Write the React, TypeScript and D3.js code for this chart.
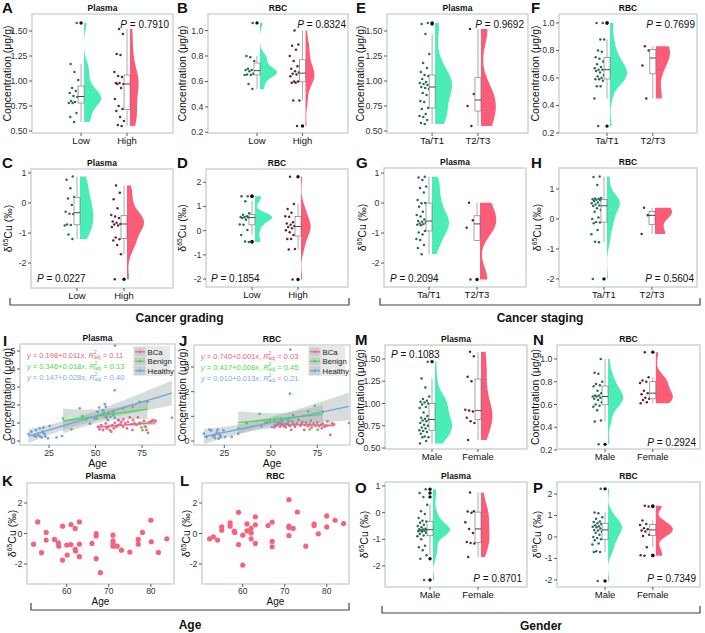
import React from "react";
import * as d3 from "d3";

const FONT = "'Liberation Sans', Arial, Helvetica, sans-serif";
const GREEN = "#4AEDB5";
const RED = "#FB5C77";
const GREEN_DOT = "#2B6A5A";
const RED_DOT = "#5E2631";
const FRAME = "#C3CED4";
const BCA = "#F4637C";
const BENIGN = "#3FE03F";
const HEALTHY = "#6BA7DC";

// ---------- categories & ticks ----------
const gradeGroups = ["Low", "High"];
const stageGroups = ["Ta/T1", "T2/T3"];
const genderGroups = ["Male", "Female"];
const plasmaConcTicks = [0.5, 0.75, 1.0, 1.25, 1.5];
const rbcConcTicks = [0.2, 0.4, 0.6, 0.8, 1.0];
const deltaTicks4 = [-2, -1, 0, 1];
const deltaTicks5 = [-2, -1, 0, 1, 2];
const pValues = ["0.7910", "0.8324", "0.0227", "0.1854", "0.9692", "0.7699", "0.2094", "0.5604", "0.1083", "0.2924", "0.8701", "0.7349"];

// ---------- grading ----------
const plasmaConcLow = [1.58, 1.17, 1.09, 1.01, 0.93, 0.90, 0.88, 0.85, 0.84, 0.80, 0.79, 0.78, 0.78, 0.68, 0.64, 0.59];
const plasmaConcHigh = [1.52, 1.47, 1.27, 1.26, 1.09, 1.05, 1.04, 0.98, 0.98, 0.97, 0.97, 0.93, 0.82, 0.75, 0.72, 0.70, 0.64, 0.60, 0.56, 0.55];
const rbcConcLow = [1.06, 0.80, 0.79, 0.76, 0.70, 0.69, 0.69, 0.68, 0.66, 0.655, 0.65, 0.65, 0.58, 0.54];
const rbcConcHigh = [1.0, 0.89, 0.88, 0.85, 0.80, 0.76, 0.72, 0.70, 0.68, 0.67, 0.66, 0.655, 0.64, 0.60, 0.60, 0.59, 0.59, 0.45, 0.45, 0.25];
const plasmaDeltaLow = [0.88, 0.77, 0.49, 0.20, 0.15, -0.07, -0.29, -0.36, -0.37, -0.72, -0.73, -0.75, -1.05, -1.20];
const plasmaDeltaHigh = [0.58, 0.34, 0.12, -0.18, -0.40, -0.45, -0.50, -0.62, -0.66, -0.70, -0.72, -0.75, -0.80, -1.15, -1.21, -1.25, -1.40, -1.71, -2.54];
const rbcDeltaLow = [1.42, 1.42, 1.22, 0.72, 0.66, 0.60, 0.56, 0.55, 0.54, 0.52, 0.45, 0.25, 0.24, 0.03, -0.18, -0.45, -0.47];
const rbcDeltaHigh = [2.23, 1.10, 0.90, 0.74, 0.60, 0.58, 0.35, 0.30, 0.24, 0.19, 0.15, 0.10, 0.02, -0.07, -0.18, -0.34, -0.35, -0.76, -0.78, -2.02];

// ---------- staging ----------
const plasmaConcT1 = [1.58, 1.57, 1.47, 1.27, 1.18, 1.13, 1.09, 1.06, 1.05, 1.02, 0.99, 0.98, 0.97, 0.96, 0.94, 0.93, 0.92, 0.88, 0.86, 0.80, 0.79, 0.73, 0.72, 0.67, 0.65, 0.64, 0.61, 0.58, 0.57];
const plasmaConcT23 = [1.52, 0.87, 0.75, 0.55];
const rbcConcT1 = [1.0, 1.0, 0.88, 0.88, 0.80, 0.79, 0.75, 0.74, 0.72, 0.70, 0.68, 0.67, 0.66, 0.66, 0.65, 0.64, 0.62, 0.61, 0.60, 0.59, 0.59, 0.58, 0.54, 0.54, 0.45, 0.25];
const rbcConcT23 = [0.83, 0.80, 0.69, 0.45];
const plasmaDeltaT1 = [0.88, 0.85, 0.77, 0.55, 0.50, 0.35, 0.10, -0.01, 0.00, -0.12, -0.29, -0.40, -0.45, -0.55, -0.60, -0.62, -0.65, -0.68, -0.70, -0.72, -0.74, -0.93, -0.98, -1.05, -1.20, -1.23, -1.40, -1.50, -1.71];
const plasmaDeltaT23 = [0.01, -0.57, -0.82, -2.55];
const rbcDeltaT1 = [1.42, 1.40, 1.13, 0.70, 0.68, 0.67, 0.66, 0.64, 0.62, 0.60, 0.55, 0.52, 0.48, 0.45, 0.43, 0.36, 0.30, 0.24, 0.05, 0.0, -0.10, -0.12, -0.14, -0.37, -0.51, -0.76, -0.78, -2.0];
const rbcDeltaT23 = [0.37, 0.12, -0.50];

// ---------- gender ----------
const plasmaConcMale = [1.47, 1.28, 1.18, 1.08, 1.05, 1.03, 1.02, 1.01, 1.00, 0.99, 0.96, 0.95, 0.90, 0.86, 0.84, 0.83, 0.82, 0.81, 0.80, 0.78, 0.76, 0.75, 0.73, 0.72, 0.70, 0.69, 0.68, 0.66, 0.63, 0.62, 0.62, 0.58, 0.55];
const plasmaConcFemale = [1.58, 1.53, 1.30, 1.25, 0.93, 0.92, 0.91, 0.84, 0.80, 0.78, 0.59];
const rbcConcMale = [1.0, 0.88, 0.87, 0.80, 0.78, 0.77, 0.76, 0.72, 0.70, 0.68, 0.68, 0.67, 0.67, 0.66, 0.65, 0.64, 0.62, 0.60, 0.59, 0.58, 0.55, 0.46, 0.45, 0.25];
const rbcConcFemale = [1.06, 0.84, 0.81, 0.80, 0.79, 0.72, 0.70, 0.69, 0.66, 0.65, 0.64, 0.62, 0.61];
const plasmaDeltaMale = [0.88, 0.74, 0.59, 0.30, 0.05, -0.05, -0.20, -0.30, -0.33, -0.38, -0.45, -0.50, -0.55, -0.60, -0.62, -0.63, -0.65, -0.66, -0.68, -0.70, -0.72, -0.75, -0.80, -0.86, -0.89, -1.0, -1.24, -1.30, -1.41, -1.60, -1.73, -2.53];
const plasmaDeltaFemale = [0.76, 0.05, 0.04, 0.0, -0.36, -0.61, -0.76, -1.10, -1.14, -1.16, -1.66];
const rbcDeltaMale = [2.24, 1.14, 1.10, 0.92, 0.85, 0.72, 0.70, 0.64, 0.60, 0.55, 0.50, 0.48, 0.45, 0.40, 0.33, 0.30, 0.25, 0.20, 0.10, 0.0, -0.05, -0.11, -0.15, -0.30, -0.35, -0.66, -0.70, -0.70, -2.05];
const rbcDeltaFemale = [1.45, 1.42, 0.77, 0.60, 0.56, 0.41, 0.36, 0.30, 0.25, 0.10, 0.05, -0.48, -0.85, -0.87];

// ---------- age scatter (I, J): [age, value] ----------
const plasmaBca = [[51.3,0.79],[52.2,0.65],[53,0.89],[54,0.61],[55.5,0.98],[56,0.70],[56.7,0.79],[57.6,0.61],[58.5,0.52],[59,0.89],[59.8,0.70],[60.3,1.01],[61.2,0.79],[62,0.89],[62.6,1.16],[63.4,0.94],[63.9,1.07],[64.8,0.79],[65,1.20],[66,0.98],[66.9,0.70],[67.4,1.07],[68.4,1.31],[69.3,0.94],[69.8,0.61],[70.2,1.16],[71,0.98],[72,0.89],[72.8,1.31],[73.4,0.98],[74,1.01],[75.2,0.61],[76,1.12],[77,0.79],[77.3,0.61],[78.2,0.46],[79,1.07],[80,1.12],[81,1.16],[82.3,1.12]];
const plasmaBenign = [[32.5,1.25],[37,0.65],[43,1.38],[47,0.98],[50.6,1.25],[54.4,1.57],[55.5,1.35],[59.4,1.44],[60.3,2.82],[64.8,1.81],[70,1.90],[73.7,2.18],[74.6,0.76],[76.4,0.80],[78,2.18]];
const plasmaHealthy = [[14,0.39],[15.5,0.52],[17,0.28],[18,0.61],[18,0.25],[19,0.42],[19,0.35],[20,0.70],[20,0.28],[21,0.20],[21.4,0.52],[22,0.74],[22,0.45],[22.7,0.39],[23,0.24],[24.5,0.15],[25.4,0.83],[29,0.20],[32,0.28],[41.5,1.82],[45,1.20],[47,0.95],[49.5,1.25],[51,1.62],[52,1.86],[54,1.44],[54,1.71],[55,2.05],[55.5,1.90],[56,1.30],[56.7,1.16],[57,1.53],[58,1.35],[59.5,1.62],[60.3,1.30],[60.5,5.3],[62,1.16],[91,1.30]];
const rbcBca = [[52,0.55],[53,0.62],[54,0.70],[55,0.58],[55.5,0.66],[56,0.75],[57,0.60],[57.5,0.68],[58,0.55],[59,0.72],[60,0.63],[61,0.45],[61.5,0.80],[62,1.05],[62.5,0.66],[63,0.58],[64,0.72],[65,0.85],[66,0.62],[66.5,0.70],[67,0.78],[68,0.45],[68.5,0.65],[69,0.75],[70,0.60],[71,0.68],[71.5,0.82],[72,0.55],[73,0.70],[74,0.62],[75,0.75],[76,0.60],[77,0.66],[77.5,0.52],[78,0.70],[79,0.58],[80,0.62],[80.5,0.80],[82,0.25],[83,0.72],[84,0.68]];
const rbcBenign = [[32.5,0.50],[37,0.72],[44,1.10],[47,0.75],[49.5,0.81],[52,0.84],[55.5,0.90],[59.4,0.86],[60.3,1.92],[64.8,0.86],[70,1.20],[71,0.47],[73.7,1.43],[75.2,0.46],[78,1.18]];
const rbcHealthy = [[14,0.30],[15.5,0.16],[17,0.46],[18,0.43],[19,0.19],[19,0.22],[20,0.12],[20,0.25],[21,0.35],[21.4,0.46],[22,0.10],[22,0.30],[22.7,0.23],[23,0.16],[24.5,0.43],[25.4,0.16],[29,0.16],[32.5,0.30],[45,0.60],[48,0.75],[50.5,0.57],[52,0.63],[54,0.77],[55,0.70],[55.5,0.84],[56,0.77],[57,0.66],[58,0.70],[59.5,0.80],[60.3,0.60],[60.5,3.7],[62,0.70],[92,0.73]];
const groupNames = ["BCa", "Benign", "Healthy"];
const plasmaEq = ["0.198+0.011", "0.346+0.018", "0.147+0.028"];
const plasmaR2 = ["0.11", "0.13", "0.40"];
const rbcEq = ["0.740+0.001", "0.417+0.008", "0.010+0.013"];
const rbcR2 = ["0.03", "0.45", "0.21"];

// ---------- age vs delta (K, L) ----------
const plasmaDeltaAge = [[52.1,-0.70],[53.1,0.76],[54,-1.26],[55.1,0.07],[55.1,-0.43],[57.1,-0.39],[58,-0.61],[58.1,-0.83],[59,0.48],[59,-1.74],[60,-0.76],[60.1,-1.41],[61,0.59],[61,-0.72],[62,0.33],[62,-1.04],[62.1,-1.15],[63,0.76],[63,-0.70],[63,-1.52],[66,-0.65],[67,0.0],[67,-0.17],[67,-1.65],[68,-2.57],[71,-0.11],[71,-0.48],[71,-0.65],[71,-0.83],[72,-0.83],[73,-1.09],[75,-1.22],[77,-0.39],[77,-0.70],[78,0.07],[80,0.87],[80.1,-0.54],[81.8,-1.24],[83.8,-0.35]];
const rbcDeltaAge = [[52.1,-0.35],[53,-0.22],[54,-0.43],[55,0.43],[55,0.22],[57,0.70],[57,0.48],[58,0.15],[58.1,0.07],[59,1.39],[59,-0.72],[60,-0.11],[60,-2.07],[61,0.63],[61,0.17],[62,0.33],[62,0.04],[62,-0.35],[63,1.09],[63,0.57],[63,-0.65],[66,0.52],[67,0.74],[67,-0.52],[67,-0.87],[71,2.22],[71,0.48],[71,0.39],[71,-0.13],[72,0.33],[73,1.41],[75,-0.83],[77,0.61],[77,0.52],[78,-0.02],[80,1.15],[80,0.43],[82,0.87],[84,0.65]];
const ageTicksWide = [25, 50, 75];
const ageTicksBca = [60, 70, 80];

// ---------- helpers ----------
function nrd0(vals: number[]) {
  const s = d3.sort(vals);
  const sd = d3.deviation(vals) || 0;
  const iqr = (d3.quantileSorted(s, 0.75) as number) - (d3.quantileSorted(s, 0.25) as number);
  let lo = Math.min(sd, iqr / 1.34);
  if (!(lo > 0)) lo = sd || 1;
  return 0.9 * lo * Math.pow(vals.length, -0.2);
}
function kde(vals: number[], grid: number[], bw: number) {
  const c = 1 / (bw * Math.sqrt(2 * Math.PI));
  return grid.map((g) => c * (d3.mean(vals, (v) => Math.exp(-0.5 * ((g - v) / bw) ** 2)) as number));
}
function fmtTick(v: number, f: string) {
  if (f === "d") return String(v);
  return d3.format(f)(v);
}
function tQ(df: number) {
  const z = 1.959964;
  return z + (z ** 3 + z) / (4 * df) + (5 * z ** 5 + 16 * z ** 3 + 3 * z) / (96 * df * df);
}

function DeltaLabel({ x, y, size = 10.5 }) {
  return (
    <text transform={`translate(${x},${y}) rotate(-90)`} textAnchor="middle" fontSize={size} fontFamily={FONT} fill="#111">
      δ<tspan dy={-4} fontSize={size * 0.65}>65</tspan><tspan dy={4}>Cu (‰)</tspan>
    </text>
  );
}
function ConcLabel({ x, y, size = 10.5 }) {
  return (
    <text transform={`translate(${x},${y}) rotate(-90)`} textAnchor="middle" fontSize={size} fontFamily={FONT} fill="#111">
      Concentration (μg/g)
    </text>
  );
}
function PLabel({ x, y, anchor, value }) {
  return (
    <text x={x} y={y} textAnchor={anchor} fontSize={10} fontFamily={FONT} fill="#111">
      <tspan fontStyle="italic">P</tspan> = {value}
    </text>
  );
}
function Letter({ x, y, t }) {
  return <text x={x} y={y} fontSize={15} fontWeight="bold" fontFamily={FONT} fill="#111">{t}</text>;
}
function Title({ x, y, t }) {
  return <text x={x} y={y} textAnchor="middle" fontSize={8.5} fontWeight="bold" fontFamily={FONT} fill="#111">{t}</text>;
}
function YAxis({ x0, y, ticks, f }) {
  return (
    <g>
      {ticks.map((t) => (
        <g key={t}>
          <line x1={x0 - 3} x2={x0} y1={y(t)} y2={y(t)} stroke="#333" strokeWidth={0.8} />
          <text x={x0 - 4.5} y={y(t) + 3} textAnchor="end" fontSize={8.8} fontFamily={FONT} fill="#333">{fmtTick(t, f)}</text>
        </g>
      ))}
    </g>
  );
}

// ---------- raincloud panel ----------
function Rain({ c }) {
  const [x0, x1, y0, y1] = c.box;
  const y = d3.scaleLinear().domain(c.domain).range([y1, y0]);
  const xf = d3.scaleLinear().domain([0, 1]).range([x0, x1]);
  const cols = [GREEN, RED];
  const dotCols = [GREEN_DOT, RED_DOT];
  const stats = c.data.map((vals: number[]) => {
    const s = d3.sort(vals);
    const q1 = d3.quantileSorted(s, 0.25) as number;
    const med = d3.quantileSorted(s, 0.5) as number;
    const q3 = d3.quantileSorted(s, 0.75) as number;
    const iqr = q3 - q1;
    const lo = q1 - 1.5 * iqr, hi = q3 + 1.5 * iqr;
    const inside = s.filter((v) => v >= lo && v <= hi);
    const out = s.filter((v) => v < lo || v > hi);
    const bw = nrd0(vals);
    const mn = s[0], mx = s[s.length - 1];
    const grid = d3.range(0, 121).map((i) => mn + ((mx - mn) * i) / 120);
    const dens = kde(vals, grid, bw);
    return { q1, med, q3, wLo: d3.min(inside), wHi: d3.max(inside), out, grid, dens };
  });
  const maxD = d3.max(stats, (s: any) => d3.max(s.dens)) as number;
  const MAXW = 17;
  const cx = c.fracs.map((f: number) => xf(f));
  return (
    <g>
      <rect x={x0} y={y0} width={x1 - x0} height={y1 - y0} fill="#fff" stroke={FRAME} strokeWidth={1.3} />
      {stats.map((s: any, gi: number) => {
        const base = cx[gi] + 3;
        const pts = s.grid.map((g: number, i: number) => [g, s.dens[i]]);
        const area = d3.area<any>().y((d) => y(d[0])).x0(base).x1((d) => base + (d[1] / maxD) * MAXW);
        return <path key={"v" + gi} d={area(pts) || ""} fill={cols[gi]} />;
      })}
      {c.data.map((vals: number[], gi: number) =>
        vals.map((v, i) => {
          const off = 2.8 + ((i * 0.6180339887 + 0.37 * gi + 0.15) % 1) * 10;
          return <circle key={"d" + gi + "-" + i} cx={cx[gi] - off} cy={y(v)} r={1.25} fill={dotCols[gi]} />;
        })
      )}
      {stats.map((s: any, gi: number) => (
        <g key={"b" + gi}>
          <line x1={cx[gi]} x2={cx[gi]} y1={y(s.wHi)} y2={y(s.q3)} stroke="#777" strokeWidth={0.6} />
          <line x1={cx[gi]} x2={cx[gi]} y1={y(s.q1)} y2={y(s.wLo)} stroke="#777" strokeWidth={0.6} />
          <rect x={cx[gi] - 3} y={y(s.q3)} width={6} height={Math.max(0.5, y(s.q1) - y(s.q3))} fill="#fff" stroke="#666" strokeWidth={0.6} />
          <line x1={cx[gi] - 3} x2={cx[gi] + 3} y1={y(s.med)} y2={y(s.med)} stroke="#333" strokeWidth={0.9} />
          {s.out.map((v: number, i: number) => (
            <circle key={i} cx={cx[gi]} cy={y(v)} r={1.7} fill="#111" />
          ))}
        </g>
      ))}
      <YAxis x0={x0} y={y} ticks={c.ticks} f={c.fmt} />
      {c.cats.map((t: string, i: number) => (
        <g key={t}>
          <line x1={cx[i]} x2={cx[i]} y1={y1} y2={y1 + 3} stroke="#333" strokeWidth={0.8} />
          <text x={cx[i]} y={y1 + 10.5} textAnchor="middle" fontSize={9.5} fontFamily={FONT} fill="#111">{t}</text>
        </g>
      ))}
      <Title x={(x0 + x1) / 2} y={y0 - 3.5} t={c.title} />
      <Letter x={c.letter[0]} y={c.letter[1]} t={c.id} />
      {c.yKind === "conc" ? <ConcLabel x={c.yLabelX} y={(y0 + y1) / 2} /> : <DeltaLabel x={c.yLabelX} y={(y0 + y1) / 2} />}
      <PLabel x={c.p[0]} y={c.p[1]} anchor={c.p[2]} value={c.pv} />
    </g>
  );
}

// ---------- regression panel ----------
function fit(pts: number[][]) {
  const n = pts.length;
  const mx = d3.mean(pts, (p) => p[0]) as number;
  const my = d3.mean(pts, (p) => p[1]) as number;
  const sxx = d3.sum(pts, (p) => (p[0] - mx) ** 2);
  const sxy = d3.sum(pts, (p) => (p[0] - mx) * (p[1] - my));
  const b = sxy / sxx, a = my - b * mx;
  const s = Math.sqrt(d3.sum(pts, (p) => (p[1] - a - b * p[0]) ** 2) / (n - 2));
  const t = tQ(n - 2);
  const [xmin, xmax] = d3.extent(pts, (p) => p[0]) as [number, number];
  const grid = d3.range(0, 41).map((i) => xmin + ((xmax - xmin) * i) / 40);
  const band = grid.map((x) => {
    const yh = a + b * x;
    const se = s * Math.sqrt(1 / n + (x - mx) ** 2 / sxx);
    return [x, yh - t * se, yh + t * se];
  });
  return { a, b, xmin, xmax, band };
}

function Reg({ c }) {
  const [x0, x1, y0, y1] = c.box;
  const x = d3.scaleLinear().domain(c.xdomain).range([x0, x1]);
  const y = d3.scaleLinear().domain(c.ydomain).range([y1, y0]);
  const cols = [BCA, BENIGN, HEALTHY];
  const eqCols = ["#F2607A", "#45DD45", "#7AAEDD"];
  const fits = c.groups.map((g: number[][]) => fit(g));
  const lx = c.legend[0], ly = c.legend[1];
  return (
    <g>
      <defs>
        <clipPath id={"clip" + c.id}><rect x={x0} y={y0 - 4} width={x1 - x0} height={y1 - y0 + 4} /></clipPath>
      </defs>
      <rect x={x0} y={y0} width={x1 - x0} height={y1 - y0} fill="#fff" stroke={FRAME} strokeWidth={1.3} />
      <g clipPath={`url(#clip${c.id})`}>
        {c.groups.map((g: number[][], gi: number) =>
          g.map((p, i) => <circle key={gi + "-" + i} cx={x(p[0])} cy={y(p[1])} r={1.35} fill={cols[gi]} />)
        )}
        {fits.map((f: any, gi: number) => {
          const area = d3.area<any>().x((d) => x(d[0])).y0((d) => y(d[1])).y1((d) => y(d[2]));
          return <path key={"band" + gi} d={area(f.band) || ""} fill="#8C9498" fillOpacity={0.33} />;
        })}
        {fits.map((f: any, gi: number) => (
          <line key={"l" + gi} x1={x(f.xmin)} x2={x(f.xmax)} y1={y(f.a + f.b * f.xmin)} y2={y(f.a + f.b * f.xmax)} stroke={cols[gi]} strokeWidth={1.3} />
        ))}
      </g>
      <YAxis x0={x0} y={y} ticks={c.yticks} f="d" />
      {c.xticks.map((t: number) => (
        <g key={t}>
          <line x1={x(t)} x2={x(t)} y1={y1} y2={y1 + 3} stroke="#333" strokeWidth={0.8} />
          <text x={x(t)} y={y1 + 11} textAnchor="middle" fontSize={8.8} fontFamily={FONT} fill="#333">{t}</text>
        </g>
      ))}
      <text x={(x0 + x1) / 2} y={y1 + 22} textAnchor="middle" fontSize={10.5} fontFamily={FONT} fill="#111">Age</text>
      <Title x={(x0 + x1) / 2} y={y0 - 3.5} t={c.title} />
      <Letter x={c.letter[0]} y={c.letter[1]} t={c.id} />
      <ConcLabel x={c.yLabelX} y={(y0 + y1) / 2} size={10.2} />
      {c.eq.map((e: string, i: number) => (
        <text key={"eq" + i} x={x0 + 7} y={y0 + 13.5 + i * 11} fontSize={7.5} fontFamily={FONT} fill={eqCols[i]}>
          <tspan fontStyle="italic">y</tspan> = {e}<tspan fontStyle="italic">x</tspan>, <tspan fontStyle="italic">R</tspan>
          <tspan dy={-3.2} fontSize={5}>2</tspan>
          <tspan dx={-2.8} dy={5} fontSize={5}>adj</tspan>
          <tspan dy={-1.8}> = {c.r2[i]}</tspan>
        </text>
      ))}
      <rect x={lx} y={ly} width={37} height={30} fill="#E4E6E7" fillOpacity={0.92} />
      {groupNames.map((n, i) => (
        <g key={n}>
          <rect x={lx + 1.5} y={ly + 1.5 + i * 9.4} width={11} height={8.6} fill="#C9CDD0" />
          <line x1={lx + 2} x2={lx + 12} y1={ly + 5.8 + i * 9.4} y2={ly + 5.8 + i * 9.4} stroke={cols[i]} strokeWidth={1.2} />
          <circle cx={lx + 7} cy={ly + 5.8 + i * 9.4} r={1.3} fill={cols[i]} />
          <text x={lx + 14.5} y={ly + 8.8 + i * 9.4} fontSize={7.8} fontFamily={FONT} fill="#222">{n}</text>
        </g>
      ))}
    </g>
  );
}

function AgeDelta({ c }) {
  const [x0, x1, y0, y1] = c.box;
  const x = d3.scaleLinear().domain(c.xdomain).range([x0, x1]);
  const y = d3.scaleLinear().domain(c.ydomain).range([y1, y0]);
  return (
    <g>
      <rect x={x0} y={y0} width={x1 - x0} height={y1 - y0} fill="#fff" stroke={FRAME} strokeWidth={1.3} />
      {c.pts.map((p: number[], i: number) => (
        <circle key={i} cx={x(p[0])} cy={y(p[1])} r={2.6} fill={BCA} />
      ))}
      <YAxis x0={x0} y={y} ticks={[-2, 0, 2]} f="d" />
      {ageTicksBca.map((t) => (
        <g key={t}>
          <line x1={x(t)} x2={x(t)} y1={y1} y2={y1 + 3} stroke="#333" strokeWidth={0.8} />
          <text x={x(t)} y={y1 + 9.5} textAnchor="middle" fontSize={8.5} fontFamily={FONT} fill="#333">{t}</text>
        </g>
      ))}
      <text x={(x0 + x1) / 2} y={y1 + 21} textAnchor="middle" fontSize={10} fontFamily={FONT} fill="#111">Age</text>
      <Title x={(x0 + x1) / 2} y={y0 - 4} t={c.title} />
      <Letter x={c.letter[0]} y={c.letter[1]} t={c.id} />
      <DeltaLabel x={c.yLabelX} y={(y0 + y1) / 2} />
    </g>
  );
}

function Bracket({ x0, x1, y, label, ty }) {
  return (
    <g>
      <path d={`M${x0},${y - 7}V${y}H${x1}V${y - 7}`} fill="none" stroke="#444" strokeWidth={1.2} />
      <text x={(x0 + x1) / 2} y={ty} textAnchor="middle" fontSize={12} fontWeight="bold" fontFamily={FONT} fill="#111">{label}</text>
    </g>
  );
}

const rainPanels = [
  { id: "A", box: [32, 173, 14, 133], domain: [0.48, 1.67], ticks: plasmaConcTicks, fmt: ".2f", cats: gradeGroups, data: [plasmaConcLow, plasmaConcHigh], fracs: [0.348, 0.674], title: "Plasma", letter: [2, 13], yKind: "conc", yLabelX: 10.5, p: [169, 28, "end"], pv: pValues[0] },
  { id: "B", box: [208, 348, 14, 133], domain: [0.195, 1.13], ticks: rbcConcTicks, fmt: ".1f", cats: gradeGroups, data: [rbcConcLow, rbcConcHigh], fracs: [0.35, 0.675], title: "RBC", letter: [177, 13], yKind: "conc", yLabelX: 185.5, p: [346, 28, "end"], pv: pValues[1] },
  { id: "C", box: [31, 173, 169, 288], domain: [-2.83, 1.13], ticks: deltaTicks4, fmt: "d", cats: gradeGroups, data: [plasmaDeltaLow, plasmaDeltaHigh], fracs: [0.324, 0.655], title: "Plasma", letter: [2, 168], yKind: "delta", yLabelX: 11.5, p: [37, 282, "start"], pv: pValues[2] },
  { id: "D", box: [206, 348, 169, 287], domain: [-2.33, 2.55], ticks: deltaTicks5, fmt: "d", cats: gradeGroups, data: [rbcDeltaLow, rbcDeltaHigh], fracs: [0.324, 0.648], title: "RBC", letter: [177, 168], yKind: "delta", yLabelX: 186, p: [211, 282, "start"], pv: pValues[3] },
  { id: "E", box: [387, 528, 14, 133], domain: [0.48, 1.67], ticks: plasmaConcTicks, fmt: ".2f", cats: stageGroups, data: [plasmaConcT1, plasmaConcT23], fracs: [0.32, 0.645], title: "Plasma", letter: [356, 13], yKind: "conc", yLabelX: 363.5, p: [524, 28, "end"], pv: pValues[4] },
  { id: "F", box: [559, 697, 14, 133], domain: [0.2, 1.065], ticks: rbcConcTicks, fmt: ".1f", cats: stageGroups, data: [rbcConcT1, rbcConcT23], fracs: [0.348, 0.68], title: "RBC", letter: [531, 13], yKind: "conc", yLabelX: 538.5, p: [695, 28, "end"], pv: pValues[5] },
  { id: "G", box: [384, 526, 168, 287], domain: [-2.8, 1.17], ticks: deltaTicks4, fmt: "d", cats: stageGroups, data: [plasmaDeltaT1, plasmaDeltaT23], fracs: [0.317, 0.655], title: "Plasma", letter: [356, 168], yKind: "delta", yLabelX: 366, p: [390, 282, "start"], pv: pValues[6] },
  { id: "H", box: [559, 697, 168, 287], domain: [-2.27, 1.7], ticks: deltaTicks4, fmt: "d", cats: stageGroups, data: [rbcDeltaT1, rbcDeltaT23], fracs: [0.326, 0.674], title: "RBC", letter: [531, 168], yKind: "delta", yLabelX: 541, p: [694, 282, "end"], pv: pValues[7] },
  { id: "M", box: [385, 527, 345, 449], domain: [0.489, 1.657], ticks: plasmaConcTicks, fmt: ".2f", cats: genderGroups, data: [plasmaConcMale, plasmaConcFemale], fracs: [0.331, 0.655], title: "Plasma", letter: [355, 345], yKind: "conc", yLabelX: 363.5, p: [391, 358, "start"], pv: pValues[8] },
  { id: "N", box: [557, 700, 345, 449], domain: [0.209, 1.123], ticks: rbcConcTicks, fmt: ".1f", cats: genderGroups, data: [rbcConcMale, rbcConcFemale], fracs: [0.336, 0.67], title: "RBC", letter: [533, 345], yKind: "conc", yLabelX: 538.5, p: [696, 446, "end"], pv: pValues[9] },
  { id: "O", box: [385, 527, 482, 587], domain: [-2.79, 1.15], ticks: deltaTicks4, fmt: "d", cats: genderGroups, data: [plasmaDeltaMale, plasmaDeltaFemale], fracs: [0.317, 0.655], title: "Plasma", letter: [355, 493], yKind: "delta", yLabelX: 368, p: [522, 582, "end"], pv: pValues[10] },
  { id: "P", box: [557, 700, 482, 587], domain: [-2.33, 2.56], ticks: deltaTicks5, fmt: "d", cats: genderGroups, data: [rbcDeltaMale, rbcDeltaFemale], fracs: [0.336, 0.67], title: "RBC", letter: [533, 493], yKind: "delta", yLabelX: 541, p: [696, 582, "end"], pv: pValues[11] },
];

const regPanels = [
  { id: "I", box: [20, 175, 344, 445], xdomain: [9.4, 92.7], ydomain: [-0.22, 5.39], yticks: [0, 1, 2, 3, 4, 5], xticks: ageTicksWide, groups: [plasmaBca, plasmaBenign, plasmaHealthy], title: "Plasma", letter: [3, 346], yLabelX: 10.5, eq: plasmaEq, r2: plasmaR2, legend: [133, 346] },
  { id: "J", box: [194, 350, 345, 445], xdomain: [8.7, 92.6], ydomain: [-0.16, 3.89], yticks: [0, 1, 2, 3], xticks: ageTicksWide, groups: [rbcBca, rbcBenign, rbcHealthy], title: "RBC", letter: [179, 346], yLabelX: 185.5, eq: rbcEq, r2: rbcR2, legend: [308, 346] },
];

const agePanels = [
  { id: "K", box: [27, 174, 483, 584], xdomain: [50.55, 85.5], ydomain: [-3.31, 3.31], pts: plasmaDeltaAge, title: "Plasma", letter: [2, 486], yLabelX: 16 },
  { id: "L", box: [202, 349, 483, 584], xdomain: [50.3, 85.3], ydomain: [-3.31, 3.31], pts: rbcDeltaAge, title: "RBC", letter: [180, 486], yLabelX: 190 },
];

export default function App() {
  return (
    <svg width={705} height={633} viewBox="0 0 705 633" style={{ position: "absolute", left: 0, top: 0, background: "#fff" }} fontFamily={FONT}>
      <rect x={0} y={0} width={705} height={633} fill="#fff" />
      {rainPanels.map((c) => <Rain key={c.id} c={c} />)}
      {regPanels.map((c) => <Reg key={c.id} c={c} />)}
      {agePanels.map((c) => <AgeDelta key={c.id} c={c} />)}
      <Bracket x0={10} x1={349} y={305} label="Cancer grading" ty={322} />
      <Bracket x0={380} x1={700} y={305} label="Cancer staging" ty={322} />
      <Bracket x0={31} x1={349} y={610} label="Age" ty={629} />
      <Bracket x0={382} x1={700} y={613} label="Gender" ty={630} />
    </svg>
  );
}
